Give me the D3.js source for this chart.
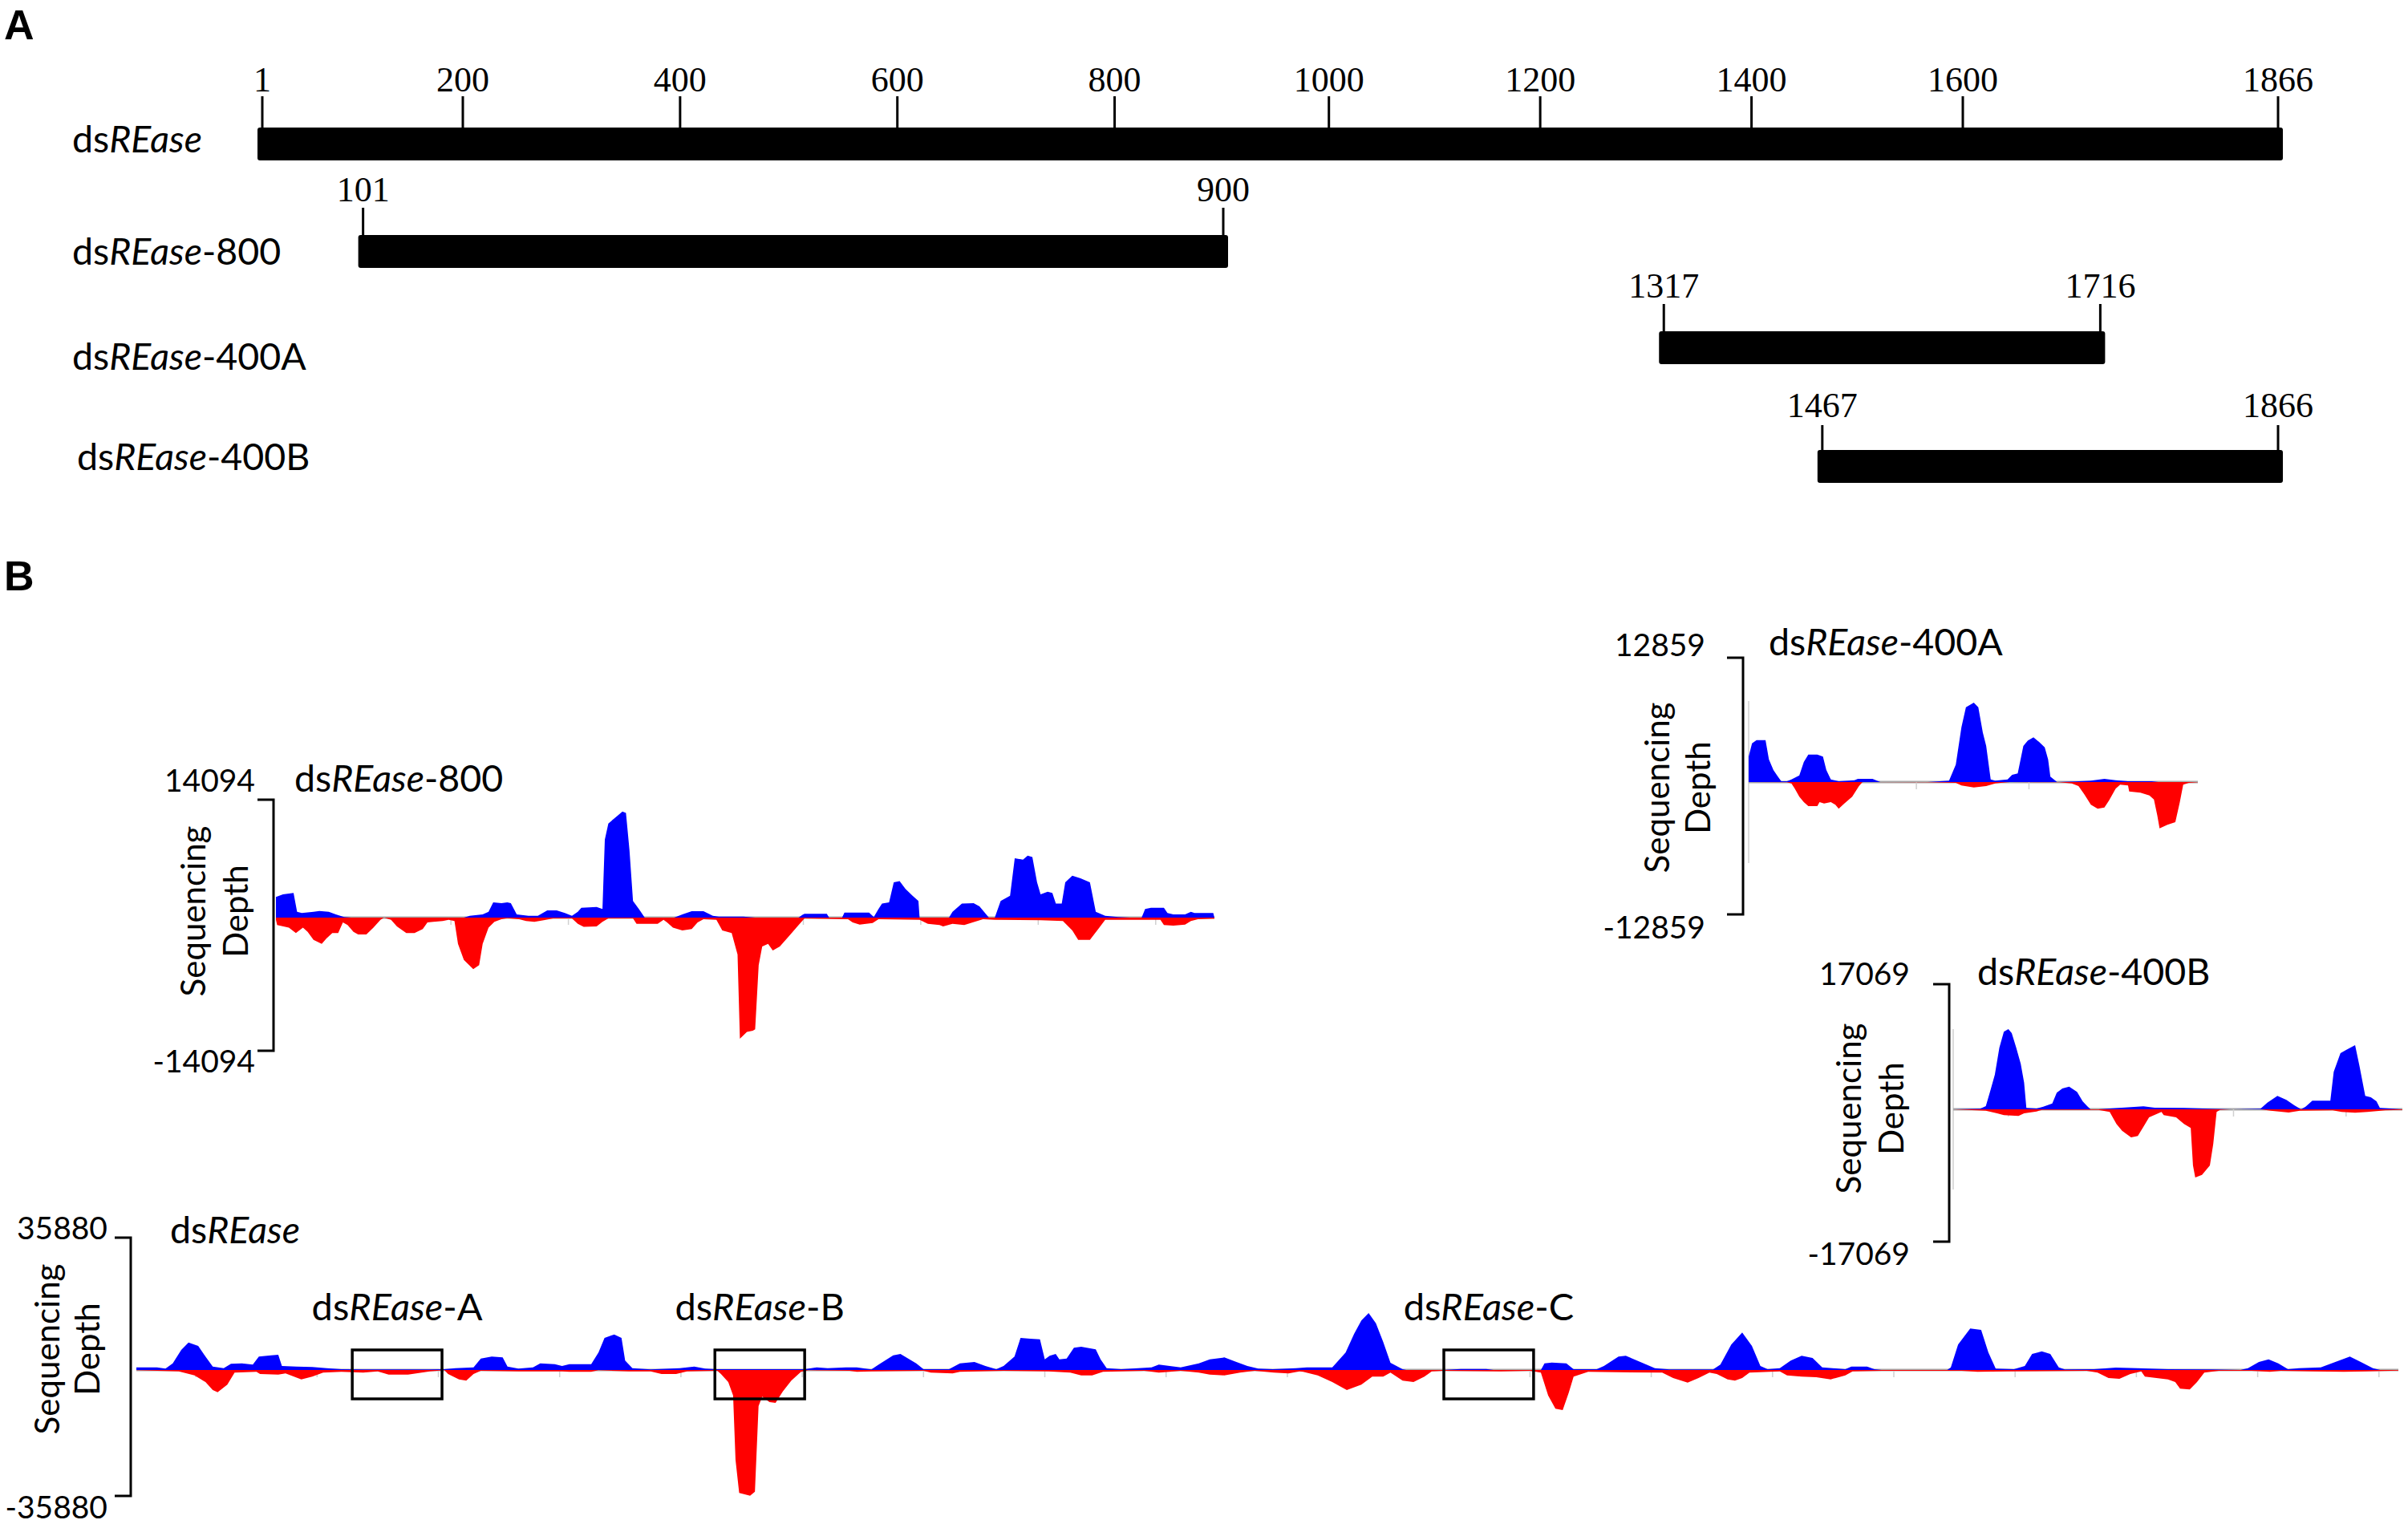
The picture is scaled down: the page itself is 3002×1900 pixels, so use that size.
<!DOCTYPE html>
<html>
<head>
<meta charset="utf-8">
<script src="https://cdn.jsdelivr.net/npm/d3@7/dist/d3.min.js"></script>
<style>
  body { margin: 0; background: #fff; }
  text { fill: #000; }
</style>
</head>
<body>
<svg id="fig" width="3002" height="1900"></svg>
<script>
//data ------------------------------------------------------------------------
//panel A: fragments on the dsREase sequence (nt)
var axisTicks = [1, 200, 400, 600, 800, 1000, 1200, 1400, 1600, 1866];
var fragNames = ['dsREase', 'dsREase-800', 'dsREase-400A', 'dsREase-400B'];
var fragStart = [1, 101, 1317, 1467];
var fragEnd = [1866, 900, 1716, 1866];

//panel B: small RNA sequencing depth, [position, depth]; minus strand is negative
var plus800 = [[101,2320],[107,2620],[116,2770],[119,660],[123,510],[133,660],[138,750],[146,660],[152,360],[159,60],[165,0],[261,0],[266,210],[277,360],[282,660],[286,1720],[293,1630],[298,1720],[301,1630],[306,360],[316,210],[324,210],[332,810],[340,810],[347,510],[353,210],[358,660],[361,1110],[374,1200],[379,960],[381,8790],[384,10600],[392,11500],[396,11950],[399,11800],[402,7590],[405,1870],[410,960],[415,0],[440,0],[447,360],[455,720],[465,720],[473,210],[478,120],[499,120],[509,0],[546,0],[549,300],[551,420],[570,420],[572,0],[583,0],[585,570],[606,570],[610,60],[614,960],[617,1570],[623,1720],[627,3970],[632,4120],[637,3220],[643,2470],[648,1870],[649,0],[674,0],[677,660],[685,1570],[695,1630],[700,1260],[708,0],[713,0],[718,1870],[726,2470],[730,6680],[737,6530],[741,6980],[745,6830],[749,3970],[752,2620],[758,2920],[762,2770],[765,1570],[770,1570],[773,3970],[779,4730],[786,4420],[794,3970],[799,660],[807,210],[818,60],[828,0],[838,0],[841,960],[846,1110],[857,1110],[860,510],[865,360],[875,360],[880,660],[883,510],[899,510],[900,0]];
var minus800 = [[101,-240],[102,-840],[112,-1140],[118,-1750],[124,-1140],[128,-1600],[133,-2500],[140,-2950],[144,-2350],[149,-1750],[154,-1750],[158,-540],[162,-840],[167,-1600],[171,-1900],[178,-1900],[184,-1140],[190,-240],[193,0],[199,-240],[204,-990],[212,-1750],[219,-1750],[226,-1290],[230,-540],[235,-480],[243,-390],[248,-240],[253,-390],[256,-2950],[261,-4760],[269,-5810],[274,-5360],[277,-2950],[282,-1140],[287,-480],[293,-180],[298,-60],[308,-180],[314,-390],[321,-480],[329,-300],[337,-90],[353,-90],[358,-690],[363,-1050],[374,-990],[379,-480],[384,-90],[405,-90],[408,-690],[426,-690],[431,-240],[434,-540],[439,-1140],[447,-1440],[455,-1290],[460,-540],[465,-180],[476,-240],[481,-1440],[489,-1750],[494,-4150],[496,-13640],[502,-12880],[507,-12730],[509,-12580],[512,-5360],[515,-3250],[520,-2950],[524,-3700],[530,-3250],[538,-2050],[546,-840],[551,-90],[588,-180],[592,-540],[598,-780],[609,-600],[614,-180],[649,-240],[656,-690],[666,-840],[669,-990],[677,-690],[687,-840],[698,-390],[703,-180],[713,-240],[752,-300],[771,-390],[779,-1440],[784,-2500],[794,-2500],[802,-1140],[807,-240],[854,-240],[857,-840],[865,-900],[875,-780],[880,-390],[886,-180],[900,-120]];

var plus400A = [[1317,4030],[1320,6150],[1324,6660],[1332,6660],[1335,3610],[1339,1910],[1343,850],[1346,130],[1351,130],[1355,420],[1362,1060],[1366,3180],[1370,4370],[1378,4370],[1383,4030],[1386,1910],[1390,420],[1397,130],[1411,300],[1414,510],[1427,510],[1434,0],[1476,0],[1495,210],[1501,2760],[1506,8700],[1510,11880],[1517,12600],[1521,11880],[1525,7850],[1528,5730],[1532,420],[1536,210],[1547,420],[1551,1150],[1556,1360],[1561,5730],[1565,6580],[1570,7090],[1575,6370],[1580,5520],[1583,3610],[1585,850],[1591,0],[1607,85],[1621,210],[1633,510],[1643,300],[1654,130],[1675,130],[1681,0],[1716,0]];
var minus400A = [[1317,0],[1351,-40],[1355,-210],[1358,-1060],[1362,-2330],[1366,-3180],[1370,-3820],[1378,-3820],[1380,-3180],[1384,-3400],[1390,-3180],[1394,-3610],[1397,-4240],[1402,-3400],[1409,-2330],[1415,-640],[1418,-40],[1419,0],[1474,-40],[1501,-130],[1506,-550],[1517,-850],[1528,-640],[1536,-210],[1541,-130],[1549,0],[1593,-40],[1604,-210],[1610,-640],[1615,-1910],[1621,-3610],[1627,-4240],[1633,-4030],[1637,-2970],[1643,-1060],[1647,-420],[1654,-550],[1655,-1490],[1665,-1700],[1673,-2120],[1677,-2760],[1680,-5300],[1682,-7340],[1689,-6790],[1696,-6370],[1700,-3180],[1703,-420],[1708,-130],[1716,-40]];

var plus400B = [[1467,0],[1491,110],[1496,680],[1500,3980],[1504,7400],[1508,13090],[1512,16500],[1516,17069],[1519,16220],[1523,13090],[1527,9670],[1530,5690],[1532,280],[1541,170],[1547,570],[1555,1250],[1559,3530],[1564,4440],[1570,4840],[1577,3700],[1582,1710],[1586,680],[1589,0],[1596,0],[1614,280],[1636,630],[1646,340],[1672,280],[1694,110],[1715,0],[1740,110],[1746,1420],[1755,2850],[1763,1990],[1770,850],[1776,0],[1780,570],[1786,1820],[1802,1820],[1805,7970],[1811,11950],[1816,12630],[1824,13660],[1828,9100],[1833,2850],[1838,2560],[1843,1710],[1846,280],[1866,0]];
var minus400B = [[1467,0],[1496,-280],[1506,-850],[1512,-1250],[1525,-1420],[1530,-850],[1541,-460],[1546,-110],[1596,-110],[1606,-570],[1612,-3130],[1617,-4550],[1625,-5970],[1631,-5690],[1636,-3700],[1641,-1710],[1652,-570],[1654,-1250],[1665,-1710],[1672,-3130],[1678,-3980],[1680,-11950],[1682,-14510],[1688,-13940],[1695,-11950],[1698,-7400],[1701,-570],[1704,-110],[1713,0],[1740,0],[1749,-280],[1765,-680],[1775,-280],[1804,-230],[1812,-570],[1824,-740],[1835,-570],[1851,-230],[1866,-110]];

var plusFull = [[1,760],[18,760],[25,380],[31,1900],[38,5720],[44,7850],[52,6860],[58,3810],[64,990],[73,530],[79,1750],[88,1900],[97,1520],[102,3810],[112,4190],[118,4340],[121,1140],[133,990],[146,840],[158,530],[170,230],[188,150],[243,150],[255,230],[264,530],[279,760],[285,3280],[294,3810],[303,3580],[307,990],[316,380],[328,760],[334,1900],[346,1680],[352,1140],[358,1680],[376,1680],[382,4950],[387,9140],[395,10130],[401,9140],[404,2670],[410,530],[425,150],[449,530],[461,990],[470,380],[479,230],[552,230],[562,760],[571,530],[586,760],[595,760],[607,150],[613,1520],[625,4190],[631,4570],[644,1900],[650,230],[671,230],[680,1900],[692,2290],[701,1140],[710,230],[716,1140],[725,3810],[730,9140],[738,8920],[746,8760],[750,3050],[754,4040],[759,4570],[762,3050],[768,3280],[774,6320],[780,6630],[792,5870],[796,3050],[801,530],[813,230],[838,760],[844,1520],[853,1140],[862,760],[877,1900],[886,3050],[898,3580],[908,2290],[917,1140],[926,380],[938,230],[957,530],[966,760],[987,760],[990,1900],[998,4950],[1005,10290],[1011,14100],[1017,16230],[1023,13340],[1029,8000],[1035,2060],[1045,230],[1048,0],[1078,0],[1093,300],[1114,300],[1120,0],[1159,0],[1162,1900],[1168,2130],[1180,1900],[1186,230],[1205,230],[1211,1140],[1223,3810],[1229,4040],[1241,2290],[1253,530],[1265,150],[1301,150],[1307,1520],[1316,7240],[1325,10670],[1333,6860],[1340,1140],[1346,230],[1356,530],[1365,2670],[1374,4040],[1383,3430],[1391,760],[1410,230],[1415,990],[1428,990],[1434,230],[1440,0],[1494,0],[1497,760],[1503,7240],[1513,11810],[1522,11430],[1528,4950],[1534,380],[1549,230],[1558,1140],[1564,4570],[1572,5330],[1579,4570],[1586,760],[1591,150],[1615,230],[1633,690],[1651,530],[1676,230],[1712,150],[1736,0],[1742,530],[1751,2290],[1759,3050],[1767,1900],[1775,230],[1784,530],[1802,760],[1814,2290],[1826,3810],[1835,2290],[1845,530],[1851,0],[1866,0]];
var minusFull = [[1,-80],[36,-380],[49,-1520],[58,-3430],[64,-5720],[68,-6320],[76,-4190],[82,-760],[100,-530],[103,-1140],[118,-1300],[124,-990],[137,-2670],[146,-1900],[155,-760],[170,-530],[188,-760],[200,-380],[209,-1300],[225,-1300],[243,-380],[255,-80],[258,-1140],[267,-2670],[273,-3050],[279,-1140],[285,-230],[316,-380],[352,-380],[358,-530],[376,-530],[382,-80],[407,-380],[425,-380],[434,-1140],[446,-1140],[455,-380],[480,-230],[483,-1140],[489,-3430],[493,-7240],[495,-25600],[498,-35050],[507,-35810],[511,-34670],[514,-10290],[517,-7620],[523,-9140],[528,-9370],[534,-6100],[541,-3050],[549,-530],[555,-80],[589,-230],[595,-530],[607,-380],[650,-230],[656,-760],[674,-990],[680,-530],[716,-230],[753,-380],[771,-760],[780,-1520],[789,-1520],[798,-530],[832,-230],[844,-760],[853,-530],[862,-230],[877,-760],[886,-1300],[898,-1520],[911,-760],[923,-230],[939,-760],[951,-990],[960,-380],[963,-530],[975,-1520],[987,-3430],[999,-5720],[1011,-4190],[1020,-1900],[1029,-1900],[1035,-760],[1045,-3050],[1054,-3430],[1063,-1900],[1069,-380],[1078,-230],[1126,-380],[1150,-230],[1159,-760],[1165,-7240],[1171,-11050],[1177,-11430],[1182,-6480],[1186,-1900],[1198,-530],[1259,-760],[1268,-2290],[1280,-3580],[1289,-2290],[1298,-760],[1304,-1140],[1313,-2670],[1319,-3050],[1325,-2290],[1331,-760],[1356,-380],[1362,-1520],[1374,-1900],[1386,-2060],[1398,-2670],[1410,-1520],[1416,-380],[1440,-230],[1506,-230],[1519,-530],[1543,-380],[1609,-230],[1618,-760],[1627,-2290],[1636,-2510],[1645,-1140],[1654,-380],[1657,-1900],[1676,-2670],[1682,-3430],[1686,-5330],[1694,-5560],[1700,-3430],[1706,-760],[1718,-230],[1745,-230],[1760,-530],[1769,-230],[1796,-380],[1821,-530],[1839,-380],[1866,-150]];

//target regions boxed on the full-length track
var regionNames = ['dsREase-A', 'dsREase-B', 'dsREase-C'];
var regionStart = [179, 478, 1079];
var regionEnd = [253, 552, 1153];


//helpers ---------------------------------------------------------------------
var svg = d3.select('#fig');
var sans = 'Lato, "Open Sans", sans-serif';
var serif = '"Liberation Serif", "Times New Roman", serif';

//writes dsREase names with the gene part in italics
var dsName = function(sel, name){
  sel.append('tspan').text('ds');
  sel.append('tspan').attr('font-style', 'italic').text('REase');
  sel.append('tspan').text(name.slice(7));
};

//panel letters
svg.append('text').attr('x', 5).attr('y', 49)
  .attr('font-family', '"Liberation Sans", Arial, sans-serif')
  .attr('font-weight', 'bold').attr('font-size', 52).text('A');
svg.append('text').attr('x', 5).attr('y', 736)
  .attr('font-family', '"Liberation Sans", Arial, sans-serif')
  .attr('font-weight', 'bold').attr('font-size', 52).text('B');


//panel A ---------------------------------------------------------------------
//the drawing is not to strict scale, so the ruler is piecewise
var ntX = d3.scaleLinear()
  .domain([1, 200, 900, 1600, 1866])
  .range([327, 577, 1525, 2447, 2840]);

var rowLayout = [
  {barTop: 159, tickTop: 120, numY: 114, nameX: 90, nameY: 190},
  {barTop: 293, tickTop: 259, numY: 251, nameX: 90, nameY: 330},
  {barTop: 413, tickTop: 379, numY: 371, nameX: 90, nameY: 461},
  {barTop: 561, tickTop: 530, numY: 520, nameX: 96, nameY: 586}
];
var barH = 41;

fragNames.forEach(function(name, i){
  var lay = rowLayout[i];
  var g = svg.append('g').attr('class', 'frag');

  dsName(g.append('text').attr('x', lay.nameX).attr('y', lay.nameY)
    .attr('font-family', sans).attr('font-size', 46.5), name);

  g.append('rect')
    .attr('x', ntX(fragStart[i]) - 6)
    .attr('y', lay.barTop)
    .attr('width', ntX(fragEnd[i]) - ntX(fragStart[i]) + 12)
    .attr('height', barH)
    .attr('rx', 3)
    .attr('fill', '#000');

  var ticks = i === 0 ? axisTicks : [fragStart[i], fragEnd[i]];
  g.selectAll('.tick').data(ticks).enter()
    .append('line')
      .attr('x1', function(d){ return ntX(d); })
      .attr('x2', function(d){ return ntX(d); })
      .attr('y1', lay.tickTop)
      .attr('y2', lay.barTop)
      .attr('stroke', '#000')
      .attr('stroke-width', 3);
  g.selectAll('.num').data(ticks).enter()
    .append('text')
      .attr('x', function(d){ return ntX(d); })
      .attr('y', lay.numY)
      .attr('text-anchor', 'middle')
      .attr('font-family', serif)
      .attr('font-size', 44)
      .text(function(d){ return d; });
});


//panel B ---------------------------------------------------------------------
var tracks = [
  {name: 'dsREase-800', max: 14094, plus: plus800, minus: minus800, dom: [101, 900],
   x: [344, 1514], zero: 1144, half: 156, tick0: 150,
   br: {x: 341, top: 997, bot: 1310}, numX: 318, numTop: 987, numBot: 1337,
   title: [367, 987], seq: [256, 309, 1136], rangeBar: false},
  {name: 'dsREase-400A', max: 12859, plus: plus400A, minus: minus400A, dom: [1317, 1716],
   x: [2180, 2740], zero: 975, half: 101, tick0: 1366,
   br: {x: 2173, top: 820, bot: 1140}, numX: 2126, numTop: 818, numBot: 1170,
   title: [2205, 817], seq: [2081, 2132, 982], rangeBar: true},
  {name: 'dsREase-400B', max: 17069, plus: plus400B, minus: minus400B, dom: [1467, 1866],
   x: [2435, 2995], zero: 1383, half: 100, tick0: 1516,
   br: {x: 2430, top: 1227, bot: 1548}, numX: 2381, numTop: 1228, numBot: 1577,
   title: [2465, 1228], seq: [2320, 2373, 1382], rangeBar: true},
  {name: 'dsREase', max: 35880, plus: plusFull, minus: minusFull, dom: [1, 1866],
   x: [170, 2990], zero: 1708, half: 157, tick0: 50,
   br: {x: 163, top: 1543, bot: 1865}, numX: 134, numTop: 1545, numBot: 1893,
   title: [212, 1550], seq: [74, 124, 1682], rangeBar: false}
];

tracks.forEach(function(t){
  var g = svg.append('g').attr('class', 'track');
  var x = d3.scaleLinear().domain(t.dom).range(t.x);
  var y = d3.scaleLinear().domain([-t.max, t.max]).range([t.zero + t.half, t.zero - t.half]);

  //faint track furniture
  if(t.rangeBar){
    g.append('line')
      .attr('x1', t.x[0]).attr('x2', t.x[0])
      .attr('y1', y(t.max)).attr('y2', y(-t.max))
      .attr('stroke', '#dcdcdc').attr('stroke-width', 2);
  }
  g.append('line')
    .attr('x1', t.x[0]).attr('x2', t.x[1])
    .attr('y1', t.zero).attr('y2', t.zero)
    .attr('stroke', '#a8a8a8').attr('stroke-width', 3);
  g.selectAll('.gridtick').data(d3.range(t.tick0, t.dom[1], 100)).enter()
    .append('line')
      .attr('x1', function(d){ return x(d); })
      .attr('x2', function(d){ return x(d); })
      .attr('y1', t.zero).attr('y2', t.zero + 9)
      .attr('stroke', '#d0d0d0').attr('stroke-width', 1.5);

  //coverage
  var area = d3.area()
    .x(function(d){ return x(d[0]); })
    .y0(y(0))
    .y1(function(d){ return y(d[1]); });
  g.append('path').datum(t.plus).attr('d', area).attr('fill', '#0000ff');
  g.append('path').datum(t.minus).attr('d', area).attr('fill', '#ff0000');

  //scale bracket
  g.append('path')
    .attr('d', d3.line()([[t.br.x - 20, t.br.top], [t.br.x, t.br.top], [t.br.x, t.br.bot], [t.br.x - 20, t.br.bot]]))
    .attr('fill', 'none').attr('stroke', '#000').attr('stroke-width', 3);
  g.append('text').attr('x', t.numX).attr('y', t.numTop)
    .attr('text-anchor', 'end').attr('font-family', sans).attr('font-size', 39)
    .text(t.max);
  g.append('text').attr('x', t.numX).attr('y', t.numBot)
    .attr('text-anchor', 'end').attr('font-family', sans).attr('font-size', 39)
    .text(-t.max);

  //axis title, two rotated lines
  ['Sequencing', 'Depth'].forEach(function(word, k){
    g.append('text')
      .attr('transform', 'translate(' + t.seq[k] + ',' + t.seq[2] + ') rotate(-90)')
      .attr('text-anchor', 'middle')
      .attr('font-family', sans).attr('font-size', 42)
      .text(word);
  });

  dsName(g.append('text').attr('x', t.title[0]).attr('y', t.title[1])
    .attr('font-family', sans).attr('font-size', 46.5), t.name);

  //boxed target regions only on the full-length track
  if(t.name === 'dsREase'){
    regionNames.forEach(function(r, i){
      var x0 = x(regionStart[i]), x1 = x(regionEnd[i]);
      g.append('rect')
        .attr('x', x0).attr('y', t.zero - 25)
        .attr('width', x1 - x0).attr('height', 61)
        .attr('fill', 'none').attr('stroke', '#000').attr('stroke-width', 3.5);
      dsName(g.append('text').attr('x', (x0 + x1) / 2).attr('y', 1646)
        .attr('text-anchor', 'middle')
        .attr('font-family', sans).attr('font-size', 47), r);
    });
  }
});
</script>
</body>
</html>
